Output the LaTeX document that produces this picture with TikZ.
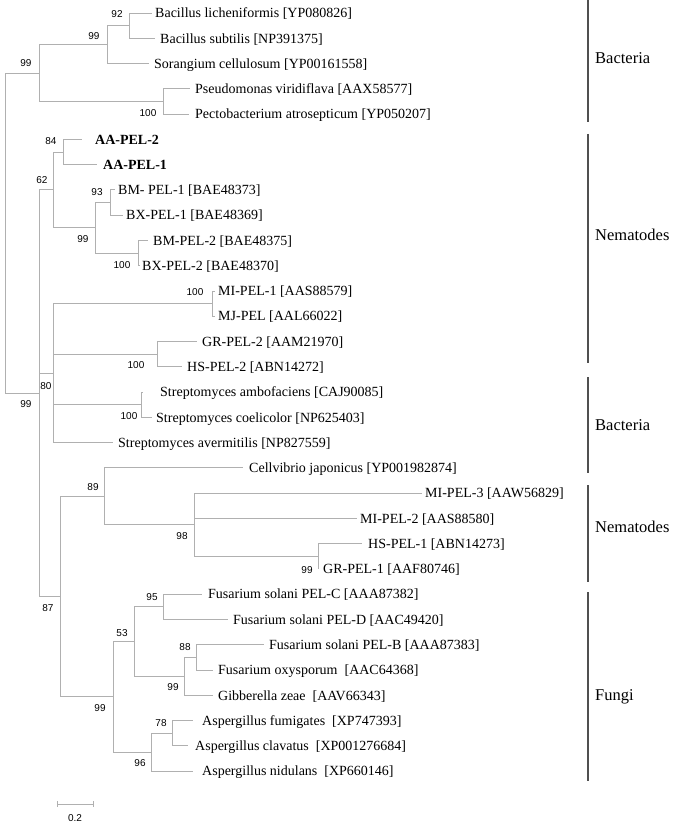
\documentclass[tikz,border=0pt]{standalone}
\usepackage{fontspec}
\setmainfont{Liberation Serif}
\newfontfamily\numfont{Liberation Sans}
\definecolor{treegray}{RGB}{176,176,176}
\definecolor{bargray}{RGB}{80,80,80}
\newcommand\rwy[1]{-(13+(#1-1)*25.27)}
\newcommand\mkleaf[5]{%
  \coordinate (#1e) at (#2,{\rwy{#4}});
  \node[leaflab] (#1) at (#3,{\rwy{#4}}) {#5};}
\newcommand\mkin[3]{\coordinate (#1) at (#2,{\rwy{#3}});}
\tikzset{
  br/.style={draw=treegray, line width=0.9pt},
  leaflab/.style={anchor=west, inner sep=0pt, font=\fontsize{14}{14}\selectfont, text height=9.5pt, text depth=0pt},
  bs/.style={font=\numfont\fontsize{10}{10}\selectfont, inner sep=0pt},
  grp/.style={anchor=west, inner sep=0pt, font=\fontsize{16.5}{16.5}\selectfont},
  grpbar/.style={draw=bargray, line width=1.6pt},
}
\begin{document}
\begin{tikzpicture}[x=1pt,y=1pt]
\fill[white] (0,0) rectangle (685,-826);
\useasboundingbox (0,0) rectangle (685,-826);
% leaves
\mkleaf{l1}{152}{155}{1}{Bacillus licheniformis [YP080826]}
\mkleaf{l2}{155}{160}{2}{Bacillus subtilis [NP391375]}
\mkleaf{l3}{149}{154}{3}{Sorangium cellulosum [YP00161558]}
\mkleaf{l4}{190}{195}{4}{Pseudomonas viridiflava [AAX58577]}
\mkleaf{l5}{189}{195}{5}{Pectobacterium atrosepticum [YP050207]}
\mkleaf{l6}{82}{95}{6}{\bfseries AA-PEL-2}
\mkleaf{l7}{97}{103}{7}{\bfseries AA-PEL-1}
\mkleaf{l8}{115}{118}{8}{BM- PEL-1 [BAE48373]}
\mkleaf{l9}{123}{126}{9}{BX-PEL-1 [BAE48369]}
\mkleaf{l10}{148}{153}{10}{BM-PEL-2 [BAE48375]}
\mkleaf{l11}{140}{142}{11}{BX-PEL-2 [BAE48370]}
\mkleaf{l12}{215}{218}{12}{MI-PEL-1 [AAS88579]}
\mkleaf{l13}{215}{218}{13}{MJ-PEL [AAL66022]}
\mkleaf{l14}{197}{202}{14}{GR-PEL-2 [AAM21970]}
\mkleaf{l15}{182}{187}{15}{HS-PEL-2 [ABN14272]}
\mkleaf{l16}{143}{160}{16}{Streptomyces ambofaciens [CAJ90085]}
\mkleaf{l17}{152}{156}{17}{Streptomyces coelicolor [NP625403]}
\mkleaf{l18}{113}{118}{18}{Streptomyces avermitilis [NP827559]}
\mkleaf{l19}{243}{249}{19}{Cellvibrio japonicus [YP001982874]}
\mkleaf{l20}{422}{425}{20}{MI-PEL-3 [AAW56829]}
\mkleaf{l21}{357}{360}{21}{MI-PEL-2 [AAS88580]}
\mkleaf{l22}{362}{368}{22}{HS-PEL-1 [ABN14273]}
\mkleaf{l23}{319}{323}{23}{GR-PEL-1 [AAF80746]}
\mkleaf{l24}{202}{208}{24}{Fusarium solani PEL-C [AAA87382]}
\mkleaf{l25}{228}{233}{25}{Fusarium solani PEL-D [AAC49420]}
\mkleaf{l26}{264}{269}{26}{Fusarium solani PEL-B [AAA87383]}
\mkleaf{l27}{213}{218}{27}{Fusarium oxysporum~ [AAC64368]}
\mkleaf{l28}{213}{218}{28}{Gibberella zeae~ [AAV66343]}
\mkleaf{l29}{193}{202}{29}{Aspergillus fumigates~ [XP747393]}
\mkleaf{l30}{188}{195}{30}{Aspergillus clavatus~ [XP001276684]}
\mkleaf{l31}{193}{202}{31}{Aspergillus nidulans~ [XP660146]}
% internal nodes
\mkin{nC}{129}{1.5}
\mkin{nB}{107}{2.25}
\mkin{nP}{163}{4.5}
\mkin{nA}{39}{3.375}
\mkin{nG}{63}{6.5}
\mkin{nI}{110}{8.5}
\mkin{nJ}{138}{10.5}
\mkin{nH}{95}{9.5}
\mkin{nF}{53}{8}
\mkin{nL}{212}{12.5}
\mkin{nM}{157}{14.5}
\mkin{nN}{141}{16.5}
\mkin{nK}{53}{15.25}
\mkin{nQ}{318}{22.5}
\mkin{nPP}{194}{21.25}
\mkin{nO}{104}{20.125}
\mkin{nT}{163}{24.5}
\mkin{nV}{196}{26.5}
\mkin{nU}{184}{27.25}
\mkin{nS}{134}{25.875}
\mkin{nX}{172}{29.5}
\mkin{nW}{151}{30.25}
\mkin{nR}{113}{28.0625}
\mkin{nE}{60}{24.09375}
\mkin{nD}{39}{16.047}
\mkin{nRoot}{5}{9.711}
% branches
\begin{scope}[br]
\draw (nRoot) |- (nA); \draw (nRoot) |- (nD);
\draw (nA) |- (nB); \draw (nA) |- (nP);
\draw (nB) |- (nC); \draw (nB) |- (l3e);
\draw (nC) |- (l1e); \draw (nC) |- (l2e);
\draw (nP) |- (l4e); \draw (nP) |- (l5e);
\draw (nD) |- (nF); \draw (nD) |- (nK); \draw (nD) |- (nE);
\draw (nF) |- (nG); \draw (nF) |- (nH);
\draw (nG) |- (l6e); \draw (nG) |- (l7e);
\draw (nH) |- (nI); \draw (nH) |- (nJ);
\draw (nI) |- (l8e); \draw (nI) |- (l9e);
\draw (nJ) |- (l10e); \draw (nJ) |- (l11e);
\draw (nK) |- (nL); \draw (nK) |- (nM); \draw (nK) |- (nN); \draw (nK) |- (l18e);
\draw (nL) |- (l12e); \draw (nL) |- (l13e);
\draw (nM) |- (l14e); \draw (nM) |- (l15e);
\draw (nN) |- (l16e); \draw (nN) |- (l17e);
\draw (nE) |- (nO); \draw (nE) |- (nR);
\draw (nO) |- (l19e); \draw (nO) |- (nPP);
\draw (nPP) |- (l20e); \draw (nPP) |- (l21e); \draw (nPP) |- (nQ);
\draw (nQ) |- (l22e); \draw (nQ) |- (l23e);
\draw (nR) |- (nS); \draw (nR) |- (nW);
\draw (nS) |- (nT); \draw (nS) |- (nU);
\draw (nT) |- (l24e); \draw (nT) |- (l25e);
\draw (nU) |- (nV); \draw (nU) |- (l28e);
\draw (nV) |- (l26e); \draw (nV) |- (l27e);
\draw (nW) |- (nX); \draw (nW) |- (l31e);
\draw (nX) |- (l29e); \draw (nX) |- (l30e);
\end{scope}
% bootstrap values
\node[bs] (bRoot) at (26,-63) {99};
\node[bs] (bB) at (94,-36) {99};
\node[bs] (bC) at (117,-14) {92};
\node[bs] (bP) at (148,-113) {100};
\node[bs] (bG) at (51,-141) {84};
\node[bs] (bF) at (42,-180) {62};
\node[bs] (bI) at (97,-192) {93};
\node[bs] (bH) at (83,-239) {99};
\node[bs] (bJ) at (122,-265) {100};
\node[bs] (bL) at (195,-292) {100};
\node[bs] (bM) at (136,-365) {100};
\node[bs] (bN) at (129,-416) {100};
\node[bs] (bK) at (46,-386) {80};
\node[bs] (bD) at (26,-404) {99};
\node[bs] (bO) at (93,-487) {89};
\node[bs] (bPP) at (182,-536) {98};
\node[bs] (bQ) at (307,-570) {99};
\node[bs] (bE) at (48,-608) {87};
\node[bs] (bT) at (152,-597) {95};
\node[bs] (bS) at (122,-633) {53};
\node[bs] (bV) at (185,-647) {88};
\node[bs] (bU) at (173,-687) {99};
\node[bs] (bR) at (100,-708) {99};
\node[bs] (bX) at (161,-723) {78};
\node[bs] (bW) at (140,-763) {96};
% group bars
\coordinate (g1t) at (588,0);   \coordinate (g1b) at (588,-122);
\coordinate (g2t) at (588,-134); \coordinate (g2b) at (588,-363);
\coordinate (g3t) at (588,-377); \coordinate (g3b) at (588,-473);
\coordinate (g4t) at (588,-485); \coordinate (g4b) at (588,-582);
\coordinate (g5t) at (588,-592); \coordinate (g5b) at (588,-781);
\draw[grpbar] (g1t) -- (g1b);
\draw[grpbar] (g2t) -- (g2b);
\draw[grpbar] (g3t) -- (g3b);
\draw[grpbar] (g4t) -- (g4b);
\draw[grpbar] (g5t) -- (g5b);
\node[grp] (t1) at (595,-58) {Bacteria};
\node[grp] (t2) at (595,-235) {Nematodes};
\node[grp] (t3) at (595,-425) {Bacteria};
\node[grp] (t4) at (595,-527) {Nematodes};
\node[grp] (t5) at (595,-697) {Fungi};
% scale bar
\coordinate (s1) at (57,-804); \coordinate (s2) at (93,-804);
\draw[br] (s1) -- (s2);
\draw[br] ([yshift=3pt]s1) -- ([yshift=-3pt]s1);
\draw[br] ([yshift=3pt]s2) -- ([yshift=-3pt]s2);
\node[bs] (sl) at (75,-818) {0.2};
\end{tikzpicture}
\end{document}
